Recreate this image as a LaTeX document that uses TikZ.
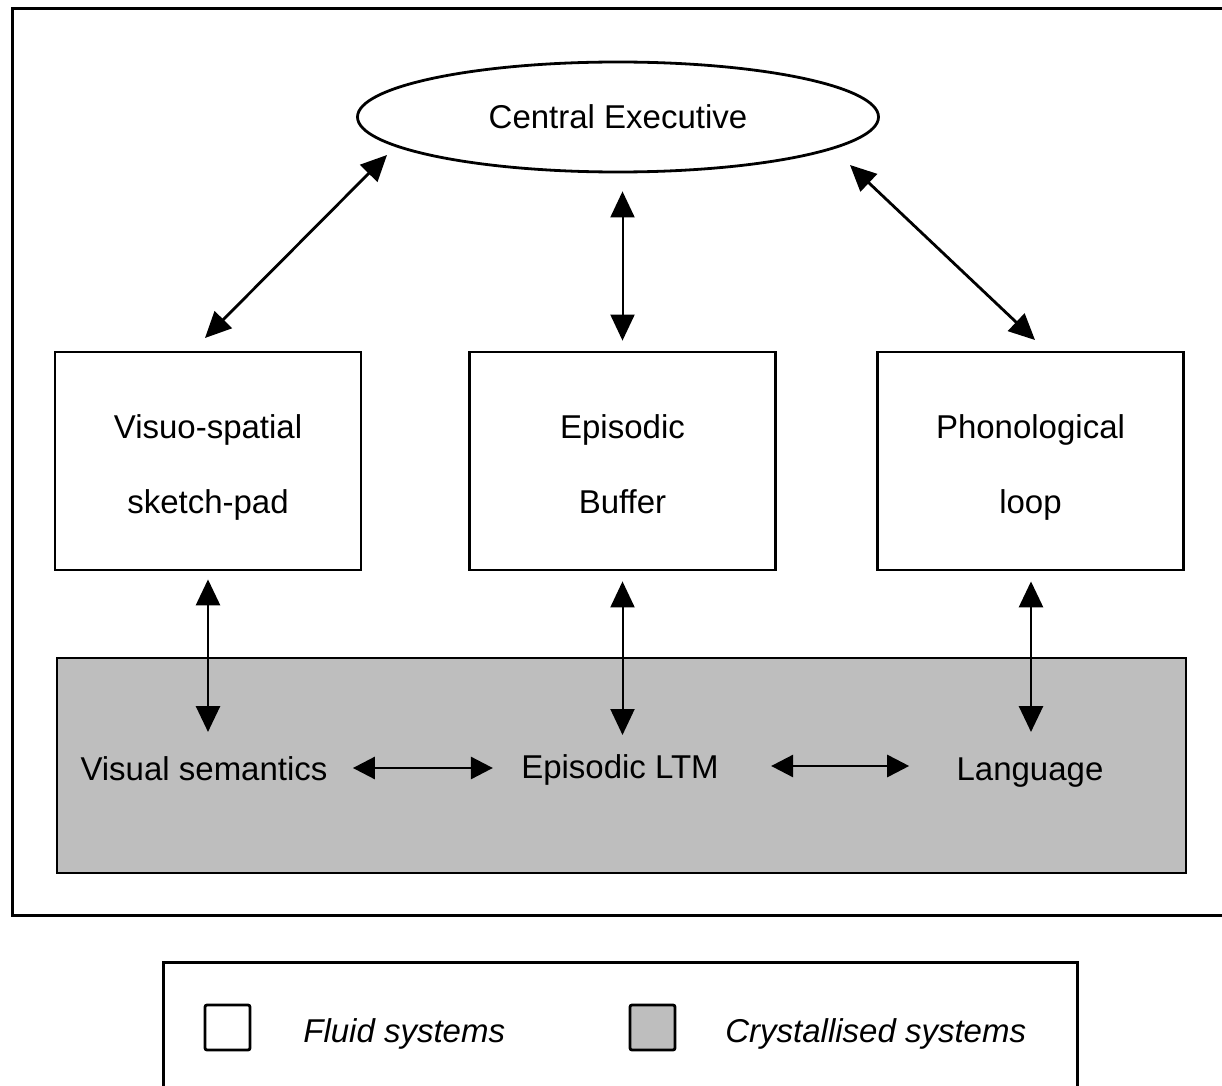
\documentclass[tikz,border=0pt]{standalone}
\usepackage{fontspec}
\setmainfont{Liberation Sans}
\usetikzlibrary{arrows.meta,shapes.geometric}
\definecolor{crystal}{HTML}{BEBEBE}
\begin{document}
\begin{tikzpicture}[x=0.5pt,y=-0.5pt,
  lbl/.style={font=\fontsize{16.5}{20}\selectfont, inner sep=0pt, anchor=base},
  fluid/.style={draw, line width=1.4pt, minimum width=153pt, minimum height=109pt, inner sep=0pt, align=center, font=\fontsize{16.5}{37.5}\selectfont},
  frame/.style={draw, line width=1.5pt},
  tip/.tip={Triangle[length=13pt,width=12pt]},
  htip/.tip={Triangle[length=11pt,width=11pt]},
  arr/.style={line width=1.4pt, tip-tip},
  arrthin/.style={line width=1pt, tip-tip},
  harr/.style={line width=1.4pt, htip-htip},
  legsq/.style={draw, line width=1.4pt, minimum size=22.5pt, inner sep=0pt, rounded corners=1pt},
  legtxt/.style={font=\fontsize{16.5}{20}\selectfont\itshape, inner sep=0pt, anchor=base west}]
\useasboundingbox (0,0) rectangle (1222,1086);
\fill[white] (0,0) rectangle (1222,1086);
% outer frame
\draw[frame] (12,9) rectangle (1240,915);
% crystallised systems
\node[draw, line width=1.4pt, fill=crystal, minimum width=564.5pt, minimum height=107.5pt, inner sep=0pt] (cryst) at (621.5,765.5) {};
% central executive
\node[draw, ellipse, line width=1.4pt, minimum width=260.5pt, minimum height=55pt, inner sep=0pt, font=\fontsize{16.5}{20}\selectfont] (ce) at (618,117) {Central Executive};
% fluid boxes
\node[fluid] (vssp) at (208,461) {\strut Visuo-spatial\\\strut sketch-pad};
\node[fluid] (eb) at (622.5,461) {\strut Episodic\\\strut Buffer};
\node[fluid] (pl) at (1030.5,461) {\strut Phonological\\\strut loop};
% crystallised labels
\node[lbl] (vs) at (204,780) {Visual semantics};
\node[lbl] (ltm) at (620,778) {Episodic LTM};
\node[lbl] (lang) at (1030,780) {Language};
% arrow end points
\coordinate (ceL) at (387,155);
\coordinate (ceR) at (850,165);
\coordinate (vsspT) at (205,338);
\coordinate (plT) at (1035,340);
\coordinate (vsT) at (208,732);
\coordinate (ltmT) at (622.5,735);
\coordinate (langT) at (1031,732);
% arrows to central executive
\draw[arr] (ceL) -- (vsspT);
\draw[arr] (ceR) -- (plT);
\draw[arrthin, shorten <=5pt, shorten >=9pt] (eb.north) -- (eb.north |- ce.south);
% arrows to crystallised systems
\draw[arr, shorten <=4pt] (vssp.south) -- (vsT);
\draw[arrthin, shorten <=5pt] (eb.south) -- (ltmT);
\draw[arr, shorten <=5pt] (langT |- pl.south) -- (langT);
% horizontal arrows
\draw[harr, shorten <=12.5pt, shorten >=14pt] ([yshift=6pt]vs.base east) -- ([yshift=6pt]vs.base east -| ltm.west);
\draw[harr, shorten <=26pt, shorten >=23.5pt] ([yshift=6pt]ltm.base east) -- ([yshift=6pt]ltm.base east -| lang.west);
% legend
\draw[frame] (163,962) rectangle (1077,1110);
\node[legsq, fill=white] (lw) at (227.5,1027.5) {};
\node[legtxt] (lwt) at (303,1042) {Fluid systems};
\node[legsq, fill=crystal] (lg) at (652.5,1027.5) {};
\node[legtxt] (lgt) at (725,1042) {Crystallised systems};
\end{tikzpicture}
\end{document}
